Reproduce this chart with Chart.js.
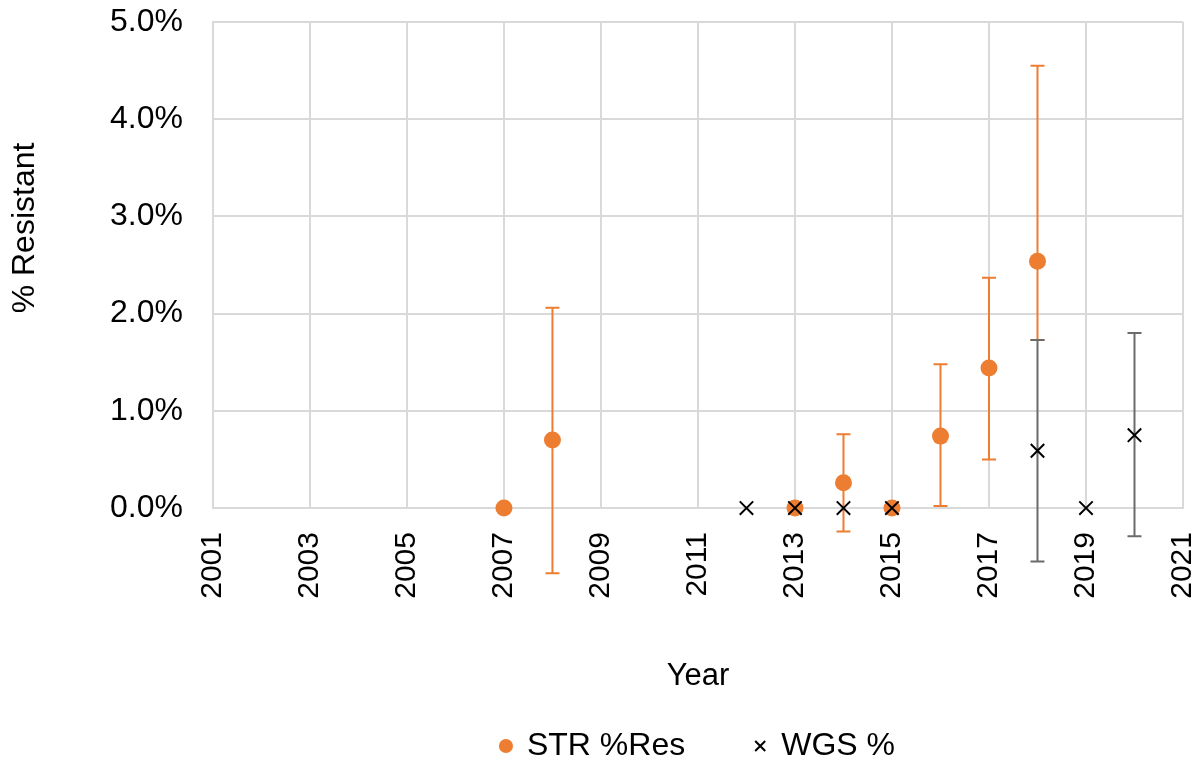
<!DOCTYPE html>
<html>
<head>
<meta charset="utf-8">
<script src="https://cdn.jsdelivr.net/npm/chart.js@4"></script>
<style>
  body { margin: 0; background: #fff; }
  #wrap { width: 1202px; height: 760px; }
</style>
</head>
<body>
<div id="wrap"><canvas id="myChart"></canvas></div>
<script>
// STR %Res (percent) with error bar ends
const strYears  = [2007, 2008, 2013, 2014, 2015, 2016, 2017, 2018];
const strValues = [0, 0.70, 0, 0.26, 0, 0.74, 1.44, 2.54];
const strLow    = [0, -0.67, 0, -0.24, 0, 0.02, 0.50, 1.73];
const strHigh   = [0, 2.06, 0, 0.76, 0, 1.48, 2.37, 4.55];

// WGS % with error bar ends
const wgsYears  = [2012, 2013, 2014, 2015, 2018, 2019, 2020];
const wgsValues = [0, 0, 0, 0, 0.59, 0, 0.75];
const wgsLow    = [0, 0, 0, 0, -0.55, 0, -0.29];
const wgsHigh   = [0, 0, 0, 0, 1.73, 0, 1.80];

const yTitle = '% Resistant';
const xTitle = 'Year';

const orange = '#ED7D31';
const gridColor = '#d9d9d9';
const font = "'Liberation Sans', Arial, sans-serif";

Chart.defaults.font.family = font;
Chart.defaults.color = '#000';

const errorBars = {
    id: 'errorBars',
    beforeDatasetsDraw(chart) {
        const ctx = chart.ctx;
        const x = chart.scales.x, y = chart.scales.y;
        const sets = [
            { years: strYears, low: strLow, high: strHigh, color: orange },
            { years: wgsYears, low: wgsLow, high: wgsHigh, color: '#6b6b6b' }
        ];
        ctx.save();
        ctx.lineWidth = 2;
        sets.forEach(s => {
            ctx.strokeStyle = s.color;
            s.years.forEach((yr, i) => {
                if (s.high[i] <= s.low[i]) return;
                const px = x.getPixelForValue(yr);
                const top = y.getPixelForValue(s.high[i]);
                const bot = y.getPixelForValue(s.low[i]);
                ctx.beginPath();
                ctx.moveTo(px, top); ctx.lineTo(px, bot);
                ctx.moveTo(px - 7, top); ctx.lineTo(px + 7, top);
                ctx.moveTo(px - 7, bot); ctx.lineTo(px + 7, bot);
                ctx.stroke();
            });
        });
        ctx.restore();
    }
};

// y axis title sits a bit above the plot middle, like the original
const yAxisTitle = {
    id: 'yAxisTitle',
    afterDraw(chart) {
        const ctx = chart.ctx;
        ctx.save();
        ctx.translate(25, 228);
        ctx.rotate(-Math.PI / 2);
        ctx.font = '32px ' + font;
        ctx.fillStyle = '#000';
        ctx.textAlign = 'center';
        ctx.textBaseline = 'middle';
        ctx.fillText(yTitle, 0, 0);
        ctx.restore();
    }
};

new Chart(document.getElementById('myChart'), {
    type: 'scatter',
    data: {
        datasets: [
            {
                label: 'STR %Res',
                data: strYears.map((yr, i) => ({ x: yr, y: strValues[i] })),
                pointStyle: 'circle',
                pointRadius: 8.5,
                backgroundColor: orange,
                borderColor: orange,
                borderWidth: 0,
                order: 1,
                clip: false
            },
            {
                label: 'WGS %',
                data: wgsYears.map((yr, i) => ({ x: yr, y: wgsValues[i] })),
                pointStyle: 'crossRot',
                pointRadius: 9.5,
                backgroundColor: '#000',
                borderColor: '#000',
                borderWidth: 2,
                order: 0,
                clip: false
            }
        ]
    },
    options: {
        responsive: true,
        maintainAspectRatio: false,
        animation: false,
        layout: { padding: { top: 0, right: 0, left: 80, bottom: -12 } },
        plugins: {
            tooltip: { enabled: false },
            legend: {
                position: 'bottom',
                fullSize: false,
                labels: {
                    usePointStyle: true,
                    boxWidth: 10,
                    boxHeight: 10,
                    padding: 70,
                    font: { size: 32 },
                    sort: (a, b) => a.datasetIndex - b.datasetIndex
                }
            }
        },
        scales: {
            x: {
                type: 'linear',
                min: 2001,
                max: 2021,
                afterFit: s => { s.paddingRight = 19; s.paddingLeft = 0; },
                ticks: {
                    stepSize: 2,
                    minRotation: 90,
                    maxRotation: 90,
                    padding: 24,
                    font: { size: 30 },
                    callback: v => String(v)
                },
                grid: { color: gridColor, lineWidth: 2, drawTicks: false },
                border: { color: gridColor, width: 2 },
                title: {
                    display: true,
                    text: xTitle,
                    font: { size: 31 },
                    padding: { top: 35, bottom: -35 }
                }
            },
            y: {
                min: 0,
                max: 5,
                afterFit: s => { s.paddingTop = 22; },
                ticks: {
                    stepSize: 1,
                    padding: 30,
                    font: { size: 32 },
                    callback: v => v.toFixed(1) + '%'
                },
                grid: { color: gridColor, lineWidth: 2, drawTicks: false },
                border: { color: gridColor, width: 2 }
            }
        }
    },
    plugins: [errorBars, yAxisTitle]
});
</script>
</body>
</html>
